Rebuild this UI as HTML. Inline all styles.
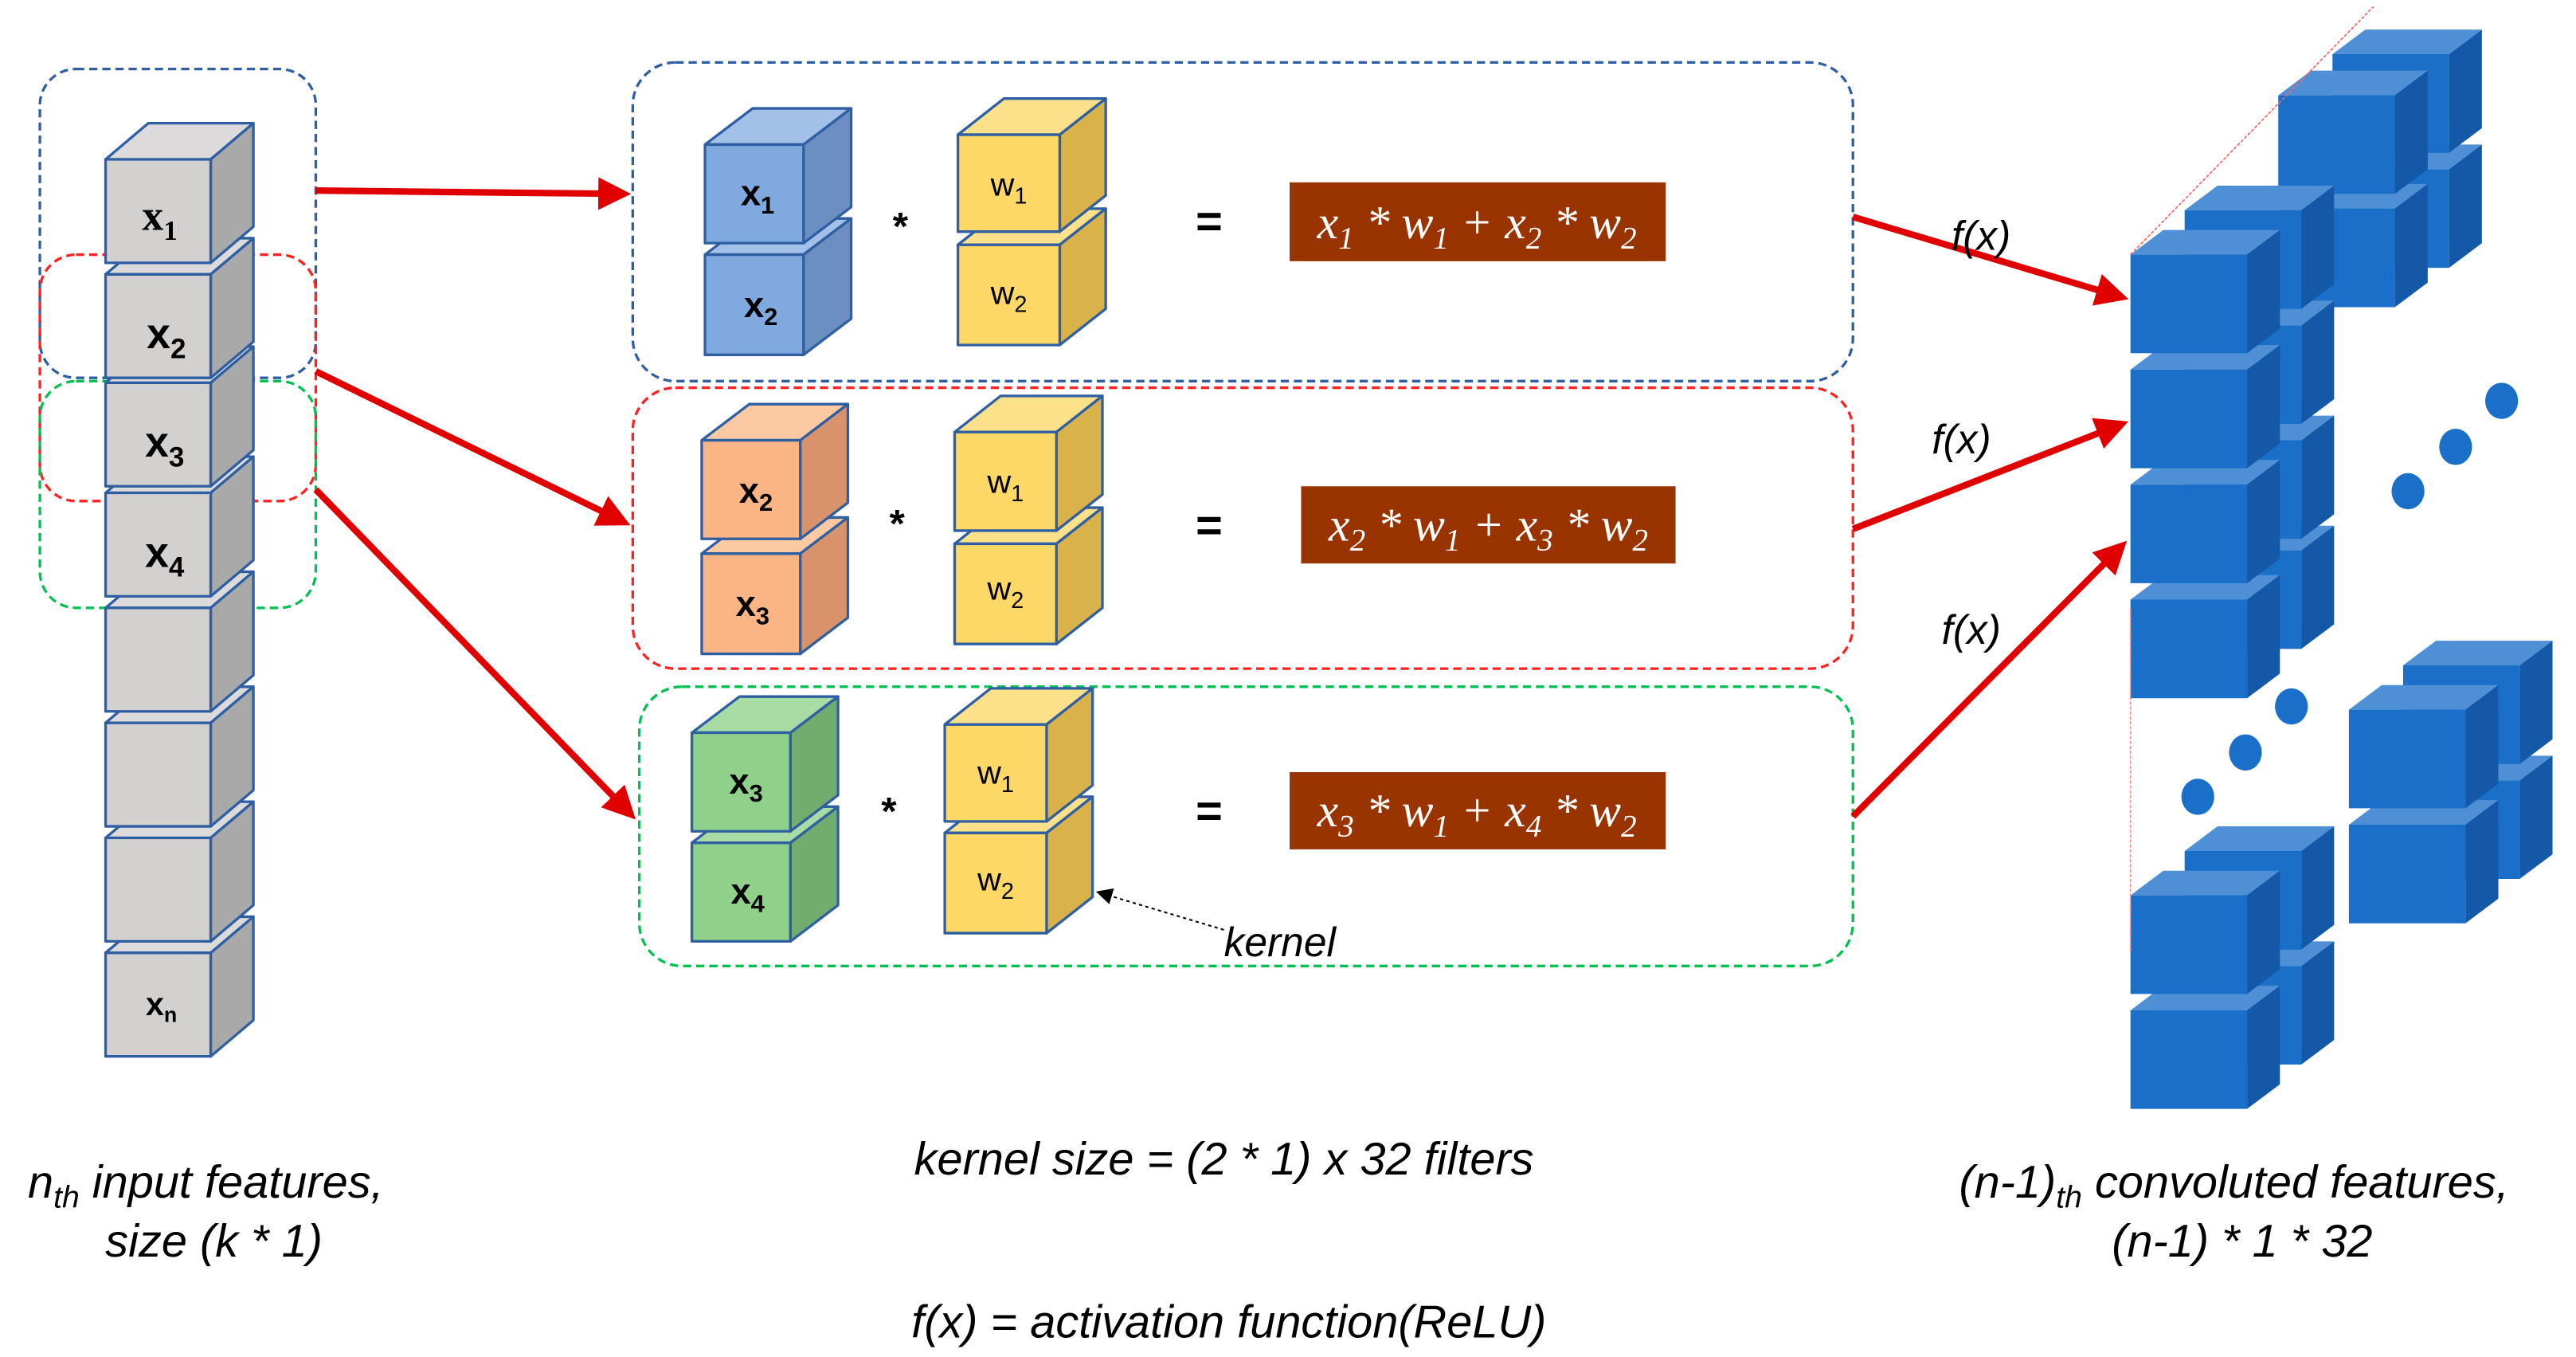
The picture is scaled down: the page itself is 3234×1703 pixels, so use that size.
<!DOCTYPE html>
<html><head><meta charset="utf-8">
<style>
html,body{margin:0;padding:0;background:#fff;}
svg{display:block;}
.lbl{font-family:"Liberation Sans",sans-serif;font-weight:bold;fill:#000;}
.it{font-family:"Liberation Sans",sans-serif;font-style:italic;fill:#000;}
.fm{font-family:"Liberation Serif",serif;font-style:italic;fill:#fff;font-size:29px;}
</style></head>
<body>
<svg id="s" width="3234" height="1703" viewBox="0 0 1568 826" xmlns="http://www.w3.org/2000/svg">
<defs>
<marker id="ah" markerWidth="5" markerHeight="5" refX="4" refY="2.5" orient="auto" markerUnits="strokeWidth">
<path d="M0,0 L5,2.5 L0,5 z" fill="#e00000"/></marker>
<marker id="ak" markerWidth="10" markerHeight="10" refX="9" refY="5" orient="auto" markerUnits="userSpaceOnUse">
<path d="M0,0 L10,5 L0,10 z" fill="#000"/></marker>
</defs>
<g fill="none" stroke-width="1.6" stroke-dasharray="5,3">
<rect x="24" y="42" width="168" height="188" rx="22" stroke="#2e5fa3"/>
<rect x="24" y="155" width="168" height="150" rx="22" stroke="#ff2020"/>
<rect x="24" y="232" width="168" height="138" rx="22" stroke="#00c050"/>
<rect x="385" y="38" width="743" height="194" rx="26" stroke="#2e5fa3"/>
<rect x="385" y="236" width="743" height="171" rx="26" stroke="#ff2020"/>
<rect x="389" y="418" width="739" height="170" rx="26" stroke="#00c050"/>
</g>
<g id="cubes"></g>
<line x1="1297" y1="155" x2="1445" y2="4" stroke="#ff6060" stroke-width="0.8" stroke-dasharray="2,1"/>
<line x1="1297" y1="370" x2="1297" y2="580" stroke="#ff9090" stroke-width="0.8" stroke-dasharray="2,1"/>
<g stroke="#e00000" stroke-width="4" fill="none" marker-end="url(#ah)">
<line x1="192" y1="116" x2="380" y2="118"/>
<line x1="192" y1="226" x2="380" y2="318"/>
<line x1="192" y1="298" x2="384" y2="496"/>
<line x1="1128" y1="132" x2="1292" y2="181"/>
<line x1="1128" y1="322" x2="1292" y2="258"/>
<line x1="1128" y1="497" x2="1292" y2="332"/>
</g>
<line x1="745" y1="566" x2="668" y2="543" stroke="#000" stroke-width="1" stroke-dasharray="2,2" marker-end="url(#ak)"/>
<g fill="#993300">
<rect x="785" y="111" width="229" height="48"/>
<rect x="792" y="296" width="228" height="47"/>
<rect x="785" y="470" width="229" height="47"/>
</g>
<text class="fm" x="899" y="145" text-anchor="middle">x<tspan font-size="19" dy="6">1</tspan><tspan dy="-6"> * w</tspan><tspan font-size="19" dy="6">1</tspan><tspan dy="-6"> + x</tspan><tspan font-size="19" dy="6">2</tspan><tspan dy="-6"> * w</tspan><tspan font-size="19" dy="6">2</tspan></text>
<text class="fm" x="906" y="329" text-anchor="middle">x<tspan font-size="19" dy="6">2</tspan><tspan dy="-6"> * w</tspan><tspan font-size="19" dy="6">1</tspan><tspan dy="-6"> + x</tspan><tspan font-size="19" dy="6">3</tspan><tspan dy="-6"> * w</tspan><tspan font-size="19" dy="6">2</tspan></text>
<text class="fm" x="899" y="503" text-anchor="middle">x<tspan font-size="19" dy="6">3</tspan><tspan dy="-6"> * w</tspan><tspan font-size="19" dy="6">1</tspan><tspan dy="-6"> + x</tspan><tspan font-size="19" dy="6">4</tspan><tspan dy="-6"> * w</tspan><tspan font-size="19" dy="6">2</tspan></text>
<g class="lbl" font-size="24" text-anchor="middle">
<text x="548" y="146">*</text><text x="546" y="327">*</text><text x="541" y="502">*</text>
<text x="736" y="144" font-size="28">=</text><text x="736" y="329" font-size="28">=</text><text x="736" y="503" font-size="28">=</text>
</g>
<g class="lbl" font-size="26" text-anchor="middle">
<text x="97" y="140" font-family="Liberation Serif" font-size="26">x<tspan font-size="17" dy="6">1</tspan></text>
<text x="101" y="212">x<tspan font-size="17" dy="6">2</tspan></text>
<text x="100" y="278">x<tspan font-size="17" dy="6">3</tspan></text>
<text x="100" y="345">x<tspan font-size="17" dy="6">4</tspan></text>
<text x="98" y="618" font-size="20">x<tspan font-size="13" dy="4">n</tspan></text>
</g>
<g class="lbl" font-size="22" text-anchor="middle">
<text x="461" y="125">x<tspan font-size="15" dy="5">1</tspan></text>
<text x="463" y="193">x<tspan font-size="15" dy="5">2</tspan></text>
<text x="460" y="306">x<tspan font-size="15" dy="5">2</tspan></text>
<text x="458" y="375">x<tspan font-size="15" dy="5">3</tspan></text>
<text x="454" y="483">x<tspan font-size="15" dy="5">3</tspan></text>
<text x="455" y="550">x<tspan font-size="15" dy="5">4</tspan></text>
</g>
<g font-family="Liberation Sans" font-size="20" text-anchor="middle" fill="#000">
<text x="614" y="119">w<tspan font-size="14" dy="5">1</tspan></text>
<text x="614" y="185">w<tspan font-size="14" dy="5">2</tspan></text>
<text x="612" y="300">w<tspan font-size="14" dy="5">1</tspan></text>
<text x="612" y="365">w<tspan font-size="14" dy="5">2</tspan></text>
<text x="606" y="477">w<tspan font-size="14" dy="5">1</tspan></text>
<text x="606" y="542">w<tspan font-size="14" dy="5">2</tspan></text>
</g>
<g class="it" font-size="25">
<text x="1188" y="152">f(x)</text>
<text x="1176" y="276">f(x)</text>
<text x="1182" y="392">f(x)</text>
<text x="745" y="582">kernel</text>
</g>
<g class="it" font-size="28" text-anchor="middle">
<text x="125" y="729">n<tspan font-size="19" dy="6">th</tspan><tspan dy="-6"> input features,</tspan></text>
<text x="130" y="765">size (k * 1)</text>
<text x="745" y="715">kernel size = (2 * 1) x 32 filters</text>
<text x="748" y="814">f(x) = activation function(ReLU)</text>
<text x="1360" y="729">(n-1)<tspan font-size="19" dy="6">th</tspan><tspan dy="-6"> convoluted features,</tspan></text>
<text x="1365" y="765">(n-1) * 1 * 32</text>
</g>
<g fill="#1a6fc8">
<ellipse cx="1523" cy="244" rx="10" ry="11"/><ellipse cx="1495" cy="272" rx="10" ry="11"/><ellipse cx="1466" cy="299" rx="10" ry="11"/>
<ellipse cx="1395" cy="430" rx="10" ry="11"/><ellipse cx="1367" cy="458" rx="10" ry="11"/><ellipse cx="1338" cy="485" rx="10" ry="11"/>
</g>
</svg>
<script>
var g=document.getElementById('cubes'),NS='http://www.w3.org/2000/svg';
function P(pts,f,s){var p=document.createElementNS(NS,'polygon');p.setAttribute('points',pts.map(function(a){return a.join(',')}).join(' '));p.setAttribute('fill',f);if(s){p.setAttribute('stroke',s);p.setAttribute('stroke-width','1.6');p.setAttribute('stroke-linejoin','round');}g.appendChild(p);}
function cube(x,y,w,h,d,dy,c,s){
P([[x,y],[x+d,y-dy],[x+w+d,y-dy],[x+w,y]],c[1],s);
P([[x+w,y],[x+w+d,y-dy],[x+w+d,y+h-dy],[x+w,y+h]],c[2],s);
P([[x,y],[x+w,y],[x+w,y+h],[x,y+h]],c[0],s);}
var gray=['#d3d0d0','#dcdada','#a9a9a9'],B='#2e5fa3';
var ly=[97,167,233,300,370,440,510,580];
for(var i=ly.length-1;i>=0;i--)cube(64,ly[i],64,63,26,22,gray,B);
var bl=['#7fa9df','#a3c0e8','#6b8fc0'],or=['#fbb585','#fcc9a3','#d9936a'],gr=['#8fd18a','#a8dca4','#72ad6d'],ye=['#fdd866','#fde08a','#dab24a'];
cube(429,155,60,61,29,22,bl,B);cube(429,88,60,60,29,22,bl,B);
cube(583,149,62,61,28,22,ye,B);cube(583,82,62,59,28,22,ye,B);
cube(427,337,60,61,29,22,or,B);cube(427,268,60,60,29,22,or,B);
cube(581,331,62,61,28,22,ye,B);cube(581,263,62,60,28,22,ye,B);
cube(421,513,60,60,29,22,gr,B);cube(421,446,60,60,29,22,gr,B);
cube(575,507,62,61,28,22,ye,B);cube(575,441,62,59,28,22,ye,B);
var bc=['#1a6fc8','#4f8fd6','#1459a8'];
function stack(x,ys){for(var i=ys.length-1;i>=0;i--)cube(x,ys[i],71,60,20,15,bc);}
stack(1420,[33,103]);stack(1387,[58,127]);
stack(1330,[128,198,268,335]);stack(1297,[155,225,295,365]);
stack(1463,[405,475]);stack(1430,[432,502]);
stack(1330,[518,588]);stack(1297,[545,615]);
</script>
</body></html>
